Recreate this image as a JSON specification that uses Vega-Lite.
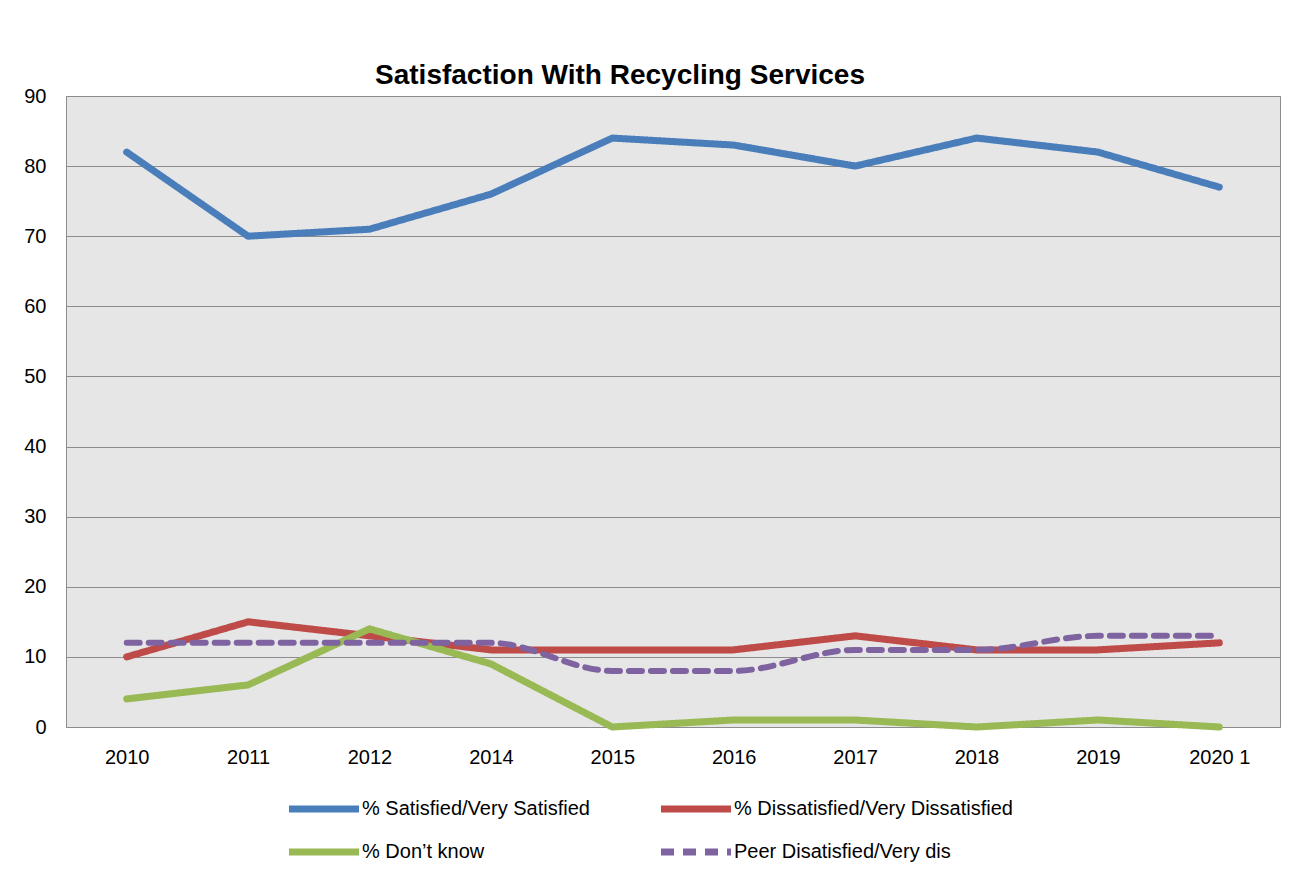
{
  "$schema": "https://vega.github.io/schema/vega-lite/v6.json",
  "width": 1214,
  "height": 631,
  "autosize": {"type": "none"},
  "padding": {"left": 66, "top": 96, "right": 31, "bottom": 149},
  "background": "white",
  "title": {
    "text": "Satisfaction With Recycling Services",
    "font": "Liberation Sans",
    "fontSize": 28,
    "fontWeight": "bold",
    "color": "#000000",
    "anchor": "middle",
    "dx": -53,
    "offset": 8,
    "dy": 12
  },
  "data": {
    "values": [
      {"year": "2010", "series": "% Satisfied/Very Satisfied", "value": 82},
      {"year": "2011", "series": "% Satisfied/Very Satisfied", "value": 70},
      {"year": "2012", "series": "% Satisfied/Very Satisfied", "value": 71},
      {"year": "2014", "series": "% Satisfied/Very Satisfied", "value": 76},
      {"year": "2015", "series": "% Satisfied/Very Satisfied", "value": 84},
      {"year": "2016", "series": "% Satisfied/Very Satisfied", "value": 83},
      {"year": "2017", "series": "% Satisfied/Very Satisfied", "value": 80},
      {"year": "2018", "series": "% Satisfied/Very Satisfied", "value": 84},
      {"year": "2019", "series": "% Satisfied/Very Satisfied", "value": 82},
      {"year": "2020 1", "series": "% Satisfied/Very Satisfied", "value": 77},
      {"year": "2010", "series": "% Dissatisfied/Very Dissatisfied", "value": 10},
      {"year": "2011", "series": "% Dissatisfied/Very Dissatisfied", "value": 15},
      {"year": "2012", "series": "% Dissatisfied/Very Dissatisfied", "value": 13},
      {"year": "2014", "series": "% Dissatisfied/Very Dissatisfied", "value": 11},
      {"year": "2015", "series": "% Dissatisfied/Very Dissatisfied", "value": 11},
      {"year": "2016", "series": "% Dissatisfied/Very Dissatisfied", "value": 11},
      {"year": "2017", "series": "% Dissatisfied/Very Dissatisfied", "value": 13},
      {"year": "2018", "series": "% Dissatisfied/Very Dissatisfied", "value": 11},
      {"year": "2019", "series": "% Dissatisfied/Very Dissatisfied", "value": 11},
      {"year": "2020 1", "series": "% Dissatisfied/Very Dissatisfied", "value": 12},
      {"year": "2010", "series": "% Don’t know", "value": 4},
      {"year": "2011", "series": "% Don’t know", "value": 6},
      {"year": "2012", "series": "% Don’t know", "value": 14},
      {"year": "2014", "series": "% Don’t know", "value": 9},
      {"year": "2015", "series": "% Don’t know", "value": 0},
      {"year": "2016", "series": "% Don’t know", "value": 1},
      {"year": "2017", "series": "% Don’t know", "value": 1},
      {"year": "2018", "series": "% Don’t know", "value": 0},
      {"year": "2019", "series": "% Don’t know", "value": 1},
      {"year": "2020 1", "series": "% Don’t know", "value": 0},
      {"year": "2010", "series": "Peer Disatisfied/Very dis", "value": 12},
      {"year": "2011", "series": "Peer Disatisfied/Very dis", "value": 12},
      {"year": "2012", "series": "Peer Disatisfied/Very dis", "value": 12},
      {"year": "2014", "series": "Peer Disatisfied/Very dis", "value": 12},
      {"year": "2015", "series": "Peer Disatisfied/Very dis", "value": 8},
      {"year": "2016", "series": "Peer Disatisfied/Very dis", "value": 8},
      {"year": "2017", "series": "Peer Disatisfied/Very dis", "value": 11},
      {"year": "2018", "series": "Peer Disatisfied/Very dis", "value": 11},
      {"year": "2019", "series": "Peer Disatisfied/Very dis", "value": 13},
      {"year": "2020 1", "series": "Peer Disatisfied/Very dis", "value": 13}
    ]
  },
  "encoding": {
    "x": {
      "field": "year",
      "type": "ordinal",
      "sort": null,
      "scale": {"type": "point", "padding": 0.5},
      "axis": {
        "title": null,
        "labelAngle": 0,
        "ticks": false,
        "domain": false,
        "grid": false,
        "labelPadding": 20,
        "labelFont": "Liberation Sans",
        "labelFontSize": 20,
        "labelColor": "#000000"
      }
    },
    "y": {
      "field": "value",
      "type": "quantitative",
      "scale": {"domain": [0, 90], "nice": false},
      "axis": {
        "title": null,
        "values": [0, 10, 20, 30, 40, 50, 60, 70, 80, 90],
        "ticks": false,
        "domain": false,
        "grid": true,
        "gridColor": "#8c8c8c",
        "gridWidth": 1,
        "gridOpacity": 1,
        "labelPadding": 20,
        "labelFont": "Liberation Sans",
        "labelFontSize": 20,
        "labelColor": "#000000"
      }
    },
    "color": {
      "field": "series",
      "type": "nominal",
      "scale": {
        "domain": ["% Satisfied/Very Satisfied", "% Dissatisfied/Very Dissatisfied", "% Don’t know", "Peer Disatisfied/Very dis"],
        "range": ["#4a7ebb", "#be4b48", "#98b954", "#7f63a1"]
      },
      "legend": {
        "title": null,
        "orient": "none",
        "legendX": 237,
        "legendY": 692,
        "direction": "horizontal",
        "columns": 2,
        "columnPadding": 57,
        "rowPadding": 8,
        "symbolType": "M-2,0L2,0",
        "symbolSize": 1225,
        "symbolStrokeWidth": 7,
        "labelOffset": 17,
        "labelFont": "Liberation Sans",
        "labelFontSize": 20,
        "labelColor": "#000000",
        "labelLimit": 400
      }
    },
    "strokeDash": {
      "field": "series",
      "type": "nominal",
      "scale": {
        "domain": ["% Satisfied/Very Satisfied", "% Dissatisfied/Very Dissatisfied", "% Don’t know", "Peer Disatisfied/Very dis"],
        "range": [[1, 0], [1, 0], [1, 0], [13, 9]]
      },
      "legend": null
    }
  },
  "layer": [
    {
      "transform": [{"filter": "datum.series !== 'Peer Disatisfied/Very dis'"}],
      "mark": {"type": "line", "strokeWidth": 7, "strokeCap": "round", "strokeJoin": "round"}
    },
    {
      "transform": [{"filter": "datum.series === 'Peer Disatisfied/Very dis'"}],
      "mark": {"type": "line", "strokeWidth": 6, "strokeCap": "round", "interpolate": "monotone"}
    }
  ],
  "config": {
    "view": {"fill": "#e6e6e6", "stroke": "#8c8c8c", "strokeWidth": 1}
  }
}
